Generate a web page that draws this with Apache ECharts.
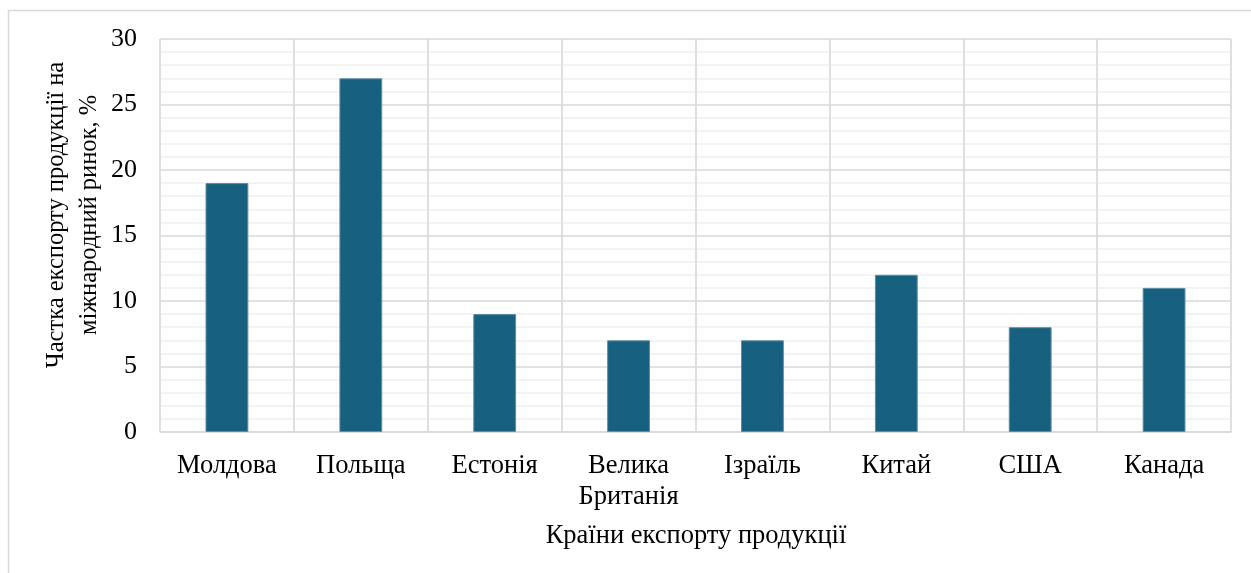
<!DOCTYPE html>
<html>
<head>
<meta charset="utf-8">
<script src="https://cdn.jsdelivr.net/npm/echarts@6/dist/echarts.min.js"></script>
<style>
  html, body { margin: 0; padding: 0; background: #ffffff; }
  #chart { width: 1251px; height: 573px; }
</style>
</head>
<body>
<div id="chart"></div>
<script>
// Export share by destination country, %
const countries = ['Молдова', 'Польща', 'Естонія', 'Велика\nБританія', 'Ізраїль', 'Китай', 'США', 'Канада'];
const exportShare = [19, 27, 9, 7, 7, 12, 8, 11];
const yTitle = 'Частка експорту продукції на\nміжнародний ринок, %';
const xTitle = 'Країни експорту продукції';

const FONT = '"Liberation Serif", "DejaVu Serif", serif';
const MAJOR = '#d9d9d9';
const MINOR = '#f0f0f0';

const chart = echarts.init(document.getElementById('chart'), null, { renderer: 'canvas' });

chart.setOption({
  backgroundColor: '#ffffff',
  animation: false,
  grid: { left: 160, right: 20, top: 39, bottom: 141, containLabel: false },
  graphic: [
    {
      type: 'rect',
      shape: { x: 8.5, y: 10.5, width: 1300, height: 700 },
      style: { fill: 'none', stroke: MAJOR, lineWidth: 1.5 },
      silent: true, z: -10
    },
    {
      type: 'text',
      x: 73, y: 215,
      rotation: Math.PI / 2,
      style: {
        text: yTitle,
        font: '24.5px ' + FONT,
        fill: '#000000',
        align: 'center',
        verticalAlign: 'middle',
        lineHeight: 33
      }
    },
    {
      type: 'text',
      x: 696, y: 536,
      style: {
        text: xTitle,
        font: '26.5px ' + FONT,
        fill: '#000000',
        align: 'center',
        verticalAlign: 'middle'
      }
    }
  ],
  xAxis: [
    {
      type: 'category',
      data: countries,
      z: 1,
      axisLine: { show: true, lineStyle: { color: MAJOR, width: 1.5 } },
      axisTick: { show: false },
      axisLabel: {
        color: '#000000',
        fontFamily: FONT,
        fontSize: 26.5,
        lineHeight: 31,
        margin: 19,
        interval: 0,
        verticalAlign: 'top'
      },
      splitLine: { show: true, lineStyle: { color: MAJOR, width: 1.5 } }
    },
    {
      // light guide lines through the middle of each category
      type: 'value',
      min: -0.5,
      max: 7.5,
      interval: 1,
      z: 0,
      position: 'bottom',
      axisLine: { show: false },
      axisTick: { show: false },
      axisLabel: { show: false },
      splitLine: { show: true, lineStyle: { color: MINOR, width: 1.5 } }
    }
  ],
  yAxis: {
    type: 'value',
    min: 0,
    max: 30,
    interval: 5,
    z: 1,
    axisLine: { show: false },
    axisTick: { show: false },
    axisLabel: {
      color: '#000000',
      fontFamily: FONT,
      fontSize: 26,
      margin: 23
    },
    splitLine: { show: true, lineStyle: { color: MAJOR, width: 1.5 } },
    minorTick: { show: false, splitNumber: 5 },
    minorSplitLine: { show: true, lineStyle: { color: MINOR, width: 1.5 } }
  },
  series: [
    {
      type: 'bar',
      xAxisIndex: 0,
      data: exportShare,
      barWidth: '32%',
      z: 3,
      itemStyle: {
        color: '#17607f',
        borderColor: '#5d8ea6',
        borderWidth: 1
      }
    }
  ]
});
</script>
</body>
</html>
